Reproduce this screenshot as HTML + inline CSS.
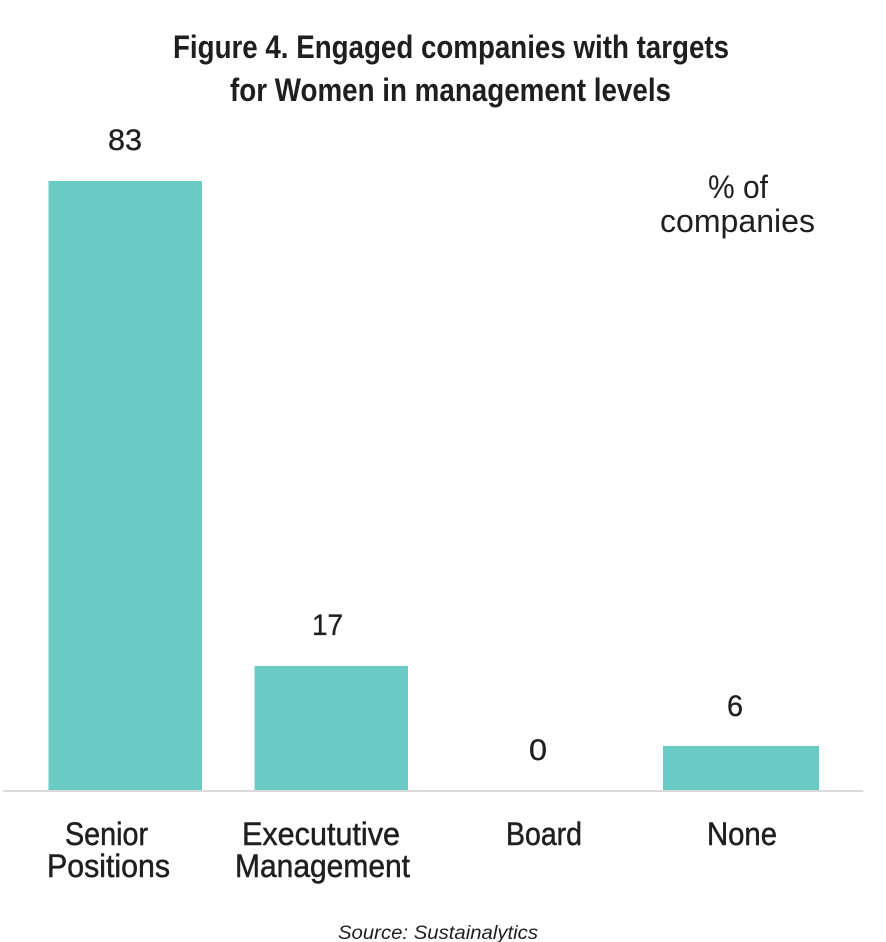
<!DOCTYPE html>
<html>
<head>
<meta charset="utf-8">
<style>
  html, body { margin: 0; padding: 0; background: #ffffff; }
  body { width: 886px; height: 942px; overflow: hidden; }
  svg { display: block; }
  text { font-family: "Liberation Sans", "DejaVu Sans", sans-serif; fill: #1f1f1f; }
  .title { font-size: 32px; font-weight: bold; }
  .num { font-size: 30px; stroke: #1f1f1f; stroke-width: 0.35px; }
  .lab { font-size: 32px; stroke: #1f1f1f; stroke-width: 0.5px; }
  .unit { font-size: 32px; }
  .src { font-size: 19.5px; font-style: italic; }
</style>
</head>
<body>
<svg width="886" height="942" viewBox="0 0 886 942" xmlns="http://www.w3.org/2000/svg">
  <rect x="0" y="0" width="886" height="942" fill="#ffffff"/>

  <!-- Title -->
  <text class="title" x="173" y="58" textLength="556" lengthAdjust="spacingAndGlyphs">Figure 4. Engaged companies with targets</text>
  <text class="title" x="230" y="101" textLength="441" lengthAdjust="spacingAndGlyphs">for Women in management levels</text>

  <!-- Unit label -->
  <text class="unit" x="708" y="198" textLength="60" lengthAdjust="spacingAndGlyphs">% of</text>
  <text class="unit" x="660" y="232" textLength="155" lengthAdjust="spacingAndGlyphs">companies</text>

  <!-- Bars -->
  <rect x="48.5" y="181" width="153.5" height="609" fill="#6ccac5"/>
  <rect x="254.5" y="666" width="153.5" height="124" fill="#6ccac5"/>
  <rect x="663" y="746" width="156" height="44" fill="#6ccac5"/>

  <!-- Axis line -->
  <rect x="3" y="790" width="860" height="2" fill="#dadada"/>

  <!-- Value labels -->
  <text class="num" x="108" y="150" textLength="34" lengthAdjust="spacingAndGlyphs">83</text>
  <text class="num" x="312" y="635" textLength="31" lengthAdjust="spacingAndGlyphs">17</text>
  <text class="num" x="529" y="760" textLength="18" lengthAdjust="spacingAndGlyphs">0</text>
  <text class="num" x="727" y="716" textLength="16" lengthAdjust="spacingAndGlyphs">6</text>

  <!-- Category labels -->
  <text class="lab" x="65" y="845" textLength="83" lengthAdjust="spacingAndGlyphs">Senior</text>
  <text class="lab" x="47" y="877" textLength="123" lengthAdjust="spacingAndGlyphs">Positions</text>
  <text class="lab" x="242" y="845" textLength="158" lengthAdjust="spacingAndGlyphs">Execututive</text>
  <text class="lab" x="235" y="877" textLength="175" lengthAdjust="spacingAndGlyphs">Management</text>
  <text class="lab" x="506" y="845" textLength="76" lengthAdjust="spacingAndGlyphs">Board</text>
  <text class="lab" x="707" y="845" textLength="70" lengthAdjust="spacingAndGlyphs">None</text>

  <!-- Source -->
  <text class="src" x="338" y="939" textLength="200" lengthAdjust="spacingAndGlyphs">Source: Sustainalytics</text>
</svg>
</body>
</html>
